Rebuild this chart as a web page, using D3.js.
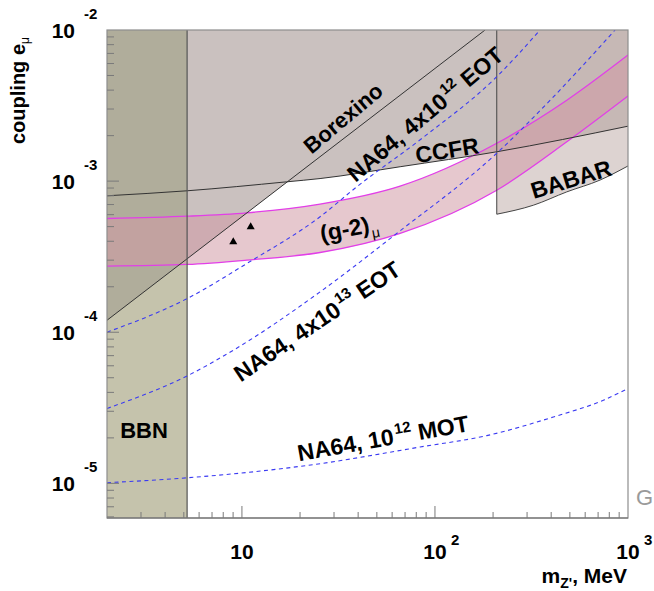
<!DOCTYPE html>
<html><head><meta charset="utf-8">
<script src="https://cdn.jsdelivr.net/npm/d3@7"></script>
<style>
html,body{margin:0;padding:0;background:#fff;}
svg{display:block;}
text{font-family:"Liberation Sans",Arial,Helvetica,sans-serif;}
</style></head><body>
<svg id="chart" width="654" height="591"></svg>
<script>
// ---------------- data ----------------
const massDomain = [2, 1000];
const couplingDomain = [5.9e-6, 1e-2];
const bbnEdgeMass = 5.2;
const borexinoMass = [2, 181.8];
const borexinoCoupling = [1.2e-4, 1e-2];
const ccfrMass = [2, 5.2, 17, 25.4, 66, 209, 1000];
const ccfrCoupling = [8.0e-4, 8.63e-4, 9.89e-4, 1.04e-3, 1.245e-3, 1.564e-3, 2.31e-3];
const babarMass = [209, 323.6, 481.8, 716, 1000];
const babarCoupling = [6.04e-4, 6.93e-4, 8.49e-4, 1.016e-3, 1.26e-3];
const g2Mass = [2, 5.2, 10.6, 25.4, 66, 209, 482, 1000];
const g2Upper = [5.66e-4, 5.86e-4, 6.17e-4, 7.05e-4, 9.27e-4, 1.78e-3, 3.43e-3, 6.83e-3];
const g2Lower = [2.74e-4, 2.81e-4, 3.0e-4, 3.37e-4, 4.51e-4, 8.71e-4, 1.82e-3, 3.66e-3];
const eot12Mass = [2, 5.2, 10.6, 25.4, 39.3, 87.1, 209, 350];
const eot12Coupling = [1.0e-4, 1.67e-4, 2.85e-4, 5.81e-4, 9.16e-4, 1.95e-3, 4.91e-3, 1e-2];
const eot13Mass = [2, 5.28, 9.02, 25.4, 63.4, 209, 410.6, 857];
const eot13Coupling = [3.13e-5, 5.19e-5, 7.6e-5, 1.85e-4, 4.51e-4, 1.53e-3, 3.61e-3, 1e-2];
const motMass = [2, 5.28, 25.4, 83.7, 185.5, 410.6, 745.6, 1000];
const motCoupling = [1.01e-5, 1.09e-5, 1.35e-5, 1.74e-5, 2.07e-5, 2.75e-5, 3.55e-5, 4.24e-5];
const markerMass = [9.02, 11.1];
const markerCoupling = [3.96e-4, 4.98e-4];
const xTickValues = [10, 100, 1000];
const xTickExponents = ["", "2", "3"];
const yTickValues = [1e-2, 1e-3, 1e-4, 1e-5];
const yTickExponents = ["-2", "-3", "-4", "-5"];

// ---------------- layout ----------------
const svg = d3.select("#chart");
const L = 107, R = 628, T = 30, B = 518;
const x = d3.scaleLog().domain(massDomain).range([L, R]);
const y = d3.scaleLog().domain(couplingDomain).range([B, T]);
const zip = (ms, gs) => ms.map((m, i) => [m, gs[i]]);
const xb = x(bbnEdgeMass);

const defs = svg.append("defs");
defs.append("clipPath").attr("id", "plot").append("rect")
  .attr("x", L).attr("y", T).attr("width", R - L).attr("height", B - T);
defs.append("clipPath").attr("id", "bbn").append("rect")
  .attr("x", L).attr("y", T).attr("width", xb - L).attr("height", B - T);
defs.append("clipPath").attr("id", "rest").append("rect")
  .attr("x", xb).attr("y", T).attr("width", R - xb).attr("height", B - T);

const curve = d3.curveMonotoneX;
const line = d3.line().x(d => x(d[0])).y(d => y(d[1])).curve(curve);
const areaAbove = d3.area().x(d => x(d[0])).y0(y.range()[1]).y1(d => y(d[1])).curve(curve);

const g = svg.append("g").attr("clip-path", "url(#plot)");

// BBN band
g.append("rect").attr("x", L).attr("y", T).attr("width", xb - L).attr("height", B - T)
  .attr("fill", "#c5c3ac");

// Borexino / CCFR excluded region (union), darker inside BBN
const borexinoPts = zip(borexinoMass, borexinoCoupling);
const ccfrPts = zip(ccfrMass, ccfrCoupling);
[["rest", "#cac1bf"], ["bbn", "#b0ad9b"]].forEach(([clip, col]) => {
  const sub = g.append("g").attr("clip-path", `url(#${clip})`);
  sub.append("path").attr("d", areaAbove.curve(d3.curveLinear)(borexinoPts)).attr("fill", col);
  sub.append("path").attr("d", areaAbove.curve(curve)(ccfrPts)).attr("fill", col);
});

// BABAR region
const babarPts = zip(babarMass, babarCoupling);
g.append("path").attr("d", areaAbove.curve(curve)(babarPts))
  .attr("fill", "rgb(195,178,174)").attr("fill-opacity", 0.57);

// (g-2) band
const g2Pts = g2Mass.map((m, i) => [m, g2Lower[i], g2Upper[i]]);
const band = d3.area().x(d => x(d[0])).y0(d => y(d[1])).y1(d => y(d[2])).curve(curve);
g.append("path").attr("d", band(g2Pts))
  .attr("fill", "rgb(209,153,164)").attr("fill-opacity", 0.54);
[g2Lower, g2Upper].forEach(arr => {
  g.append("path").attr("d", line(zip(g2Mass, arr)))
    .attr("fill", "none").attr("stroke", "#e23ee8").attr("stroke-width", 1.3);
});

// boundary lines
g.append("path").attr("d", d3.line().x(d => x(d[0])).y(d => y(d[1]))(borexinoPts))
  .attr("fill", "none").attr("stroke", "#333").attr("stroke-width", 1);
g.append("path").attr("d", line(ccfrPts))
  .attr("fill", "none").attr("stroke", "#333").attr("stroke-width", 1);
g.append("path").attr("d", line(babarPts))
  .attr("fill", "none").attr("stroke", "#444").attr("stroke-width", 1);
g.append("line").attr("x1", x(babarMass[0])).attr("x2", x(babarMass[0]))
  .attr("y1", T).attr("y2", y(babarCoupling[0]))
  .attr("stroke", "#444").attr("stroke-width", 1);
g.append("line").attr("x1", xb).attr("x2", xb).attr("y1", T).attr("y2", B)
  .attr("stroke", "#555").attr("stroke-width", 1.2);

// NA64 projections
[[eot12Mass, eot12Coupling], [eot13Mass, eot13Coupling], [motMass, motCoupling]].forEach(([ms, gs]) => {
  g.append("path").attr("d", line(zip(ms, gs)))
    .attr("fill", "none").attr("stroke", "#3a3af2").attr("stroke-width", 1.1)
    .attr("stroke-dasharray", "4,3.5");
});

// markers
g.selectAll(".mk").data(zip(markerMass, markerCoupling)).join("path")
  .attr("transform", d => `translate(${x(d[0])},${y(d[1])})`)
  .attr("d", d3.symbol().type(d3.symbolTriangle).size(28)())
  .attr("fill", "#000");

// ---------------- frame & ticks ----------------
svg.append("rect").attr("x", L).attr("y", T).attr("width", R - L).attr("height", B - T)
  .attr("fill", "none").attr("stroke", "#8e8e8e").attr("stroke-width", 1.2);
svg.append("line").attr("x1", L).attr("x2", R).attr("y1", B).attr("y2", B)
  .attr("stroke", "#6a6a6a").attr("stroke-width", 1.2);

const ticksFor = (dom) => {
  const out = [];
  const e0 = Math.floor(Math.log10(dom[0])), e1 = Math.ceil(Math.log10(dom[1]));
  for (let e = e0; e <= e1; e++) for (let k = 1; k <= 9; k++) {
    const v = k * Math.pow(10, e);
    if (v > dom[0] * 1.0001 && v < dom[1] * 0.9999) out.push({v, major: k === 1});
  }
  return out;
};
const tg = svg.append("g").attr("stroke", "#7a7a7a").attr("stroke-width", 1);
ticksFor(massDomain).forEach(t => {
  tg.append("line").attr("x1", x(t.v)).attr("x2", x(t.v))
    .attr("y1", B).attr("y2", B - (t.major ? 12 : 6));
});
ticksFor(couplingDomain).forEach(t => {
  tg.append("line").attr("y1", y(t.v)).attr("y2", y(t.v))
    .attr("x1", L).attr("x2", L + (t.major ? 12 : 7));
});

// tick labels
xTickValues.forEach((v, i) => {
  svg.append("text").attr("x", x(v)).attr("y", 559).attr("text-anchor", "middle")
    .attr("font-size", 21).attr("font-weight", "bold").text("10");
  if (xTickExponents[i]) svg.append("text").attr("x", x(v) + 16).attr("y", 545)
    .attr("font-size", 15).attr("font-weight", "bold").text(xTickExponents[i]);
});
yTickValues.forEach((v, i) => {
  svg.append("text").attr("x", 75).attr("y", y(v) + 8).attr("text-anchor", "end")
    .attr("font-size", 21).attr("font-weight", "bold").text("10");
  svg.append("text").attr("x", 84).attr("y", y(v) - 11)
    .attr("font-size", 15).attr("font-weight", "bold").text(yTickExponents[i]);
});

// axis titles
const yt = svg.append("text").attr("transform", "translate(25,144) rotate(-90)")
  .attr("font-size", 20).attr("font-weight", "bold");
yt.append("tspan").text("coupling e");
yt.append("tspan").attr("font-size", 12).attr("font-weight", "normal").attr("dy", 4).text("\u03bc");

const xt = svg.append("text").attr("x", 627).attr("y", 583).attr("text-anchor", "end")
  .attr("font-size", 21).attr("font-weight", "bold");
xt.append("tspan").text("m");
xt.append("tspan").attr("font-size", 14).attr("dy", 5).text("Z'");
xt.append("tspan").attr("dy", -5).text(", MeV");

// ---------------- region labels ----------------
function label(cx, cy, ang, parts, size) {
  const t = svg.append("text")
    .attr("transform", `translate(${cx},${cy}) rotate(${ang})`)
    .attr("text-anchor", "middle").attr("dy", "0.36em")
    .attr("font-size", size || 23).attr("font-weight", "bold").attr("fill", "#000");
  parts.forEach(p => {
    const s = t.append("tspan").text(p.t);
    if (p.sup) s.attr("font-size", 15).attr("dy", -10).attr("dx", 2);
    if (p.sub) s.attr("font-size", 14).attr("font-weight", "normal").attr("dy", 6).attr("dx", 1);
    if (p.back) s.attr("dy", p.back);
  });
}
label(343, 118, -40, [{t: "Borexino"}], 22);
label(425, 114, -40, [{t: "NA64, 4x10"}, {t: "12", sup: true}, {t: " EOT", back: 10}]);
label(447, 150, -9, [{t: "CCFR"}]);
label(571, 179, -17, [{t: "BABAR"}]);
label(349, 228, -11, [{t: "(g-2)"}, {t: "\u03bc", sub: true}]);
label(317, 321, -34, [{t: "NA64, 4x10"}, {t: "13", sup: true}, {t: " EOT", back: 10}]);
label(383, 438, -10, [{t: "NA64, 10"}, {t: "12", sup: true}, {t: " MOT", back: 10}]);
label(144, 430, 0, [{t: "BBN"}], 22);

// partial slide text at right edge
svg.append("text").attr("x", 636).attr("y", 505).attr("font-size", 22)
  .attr("fill", "#9a9a9a").text("G");
</script>
</body></html>
